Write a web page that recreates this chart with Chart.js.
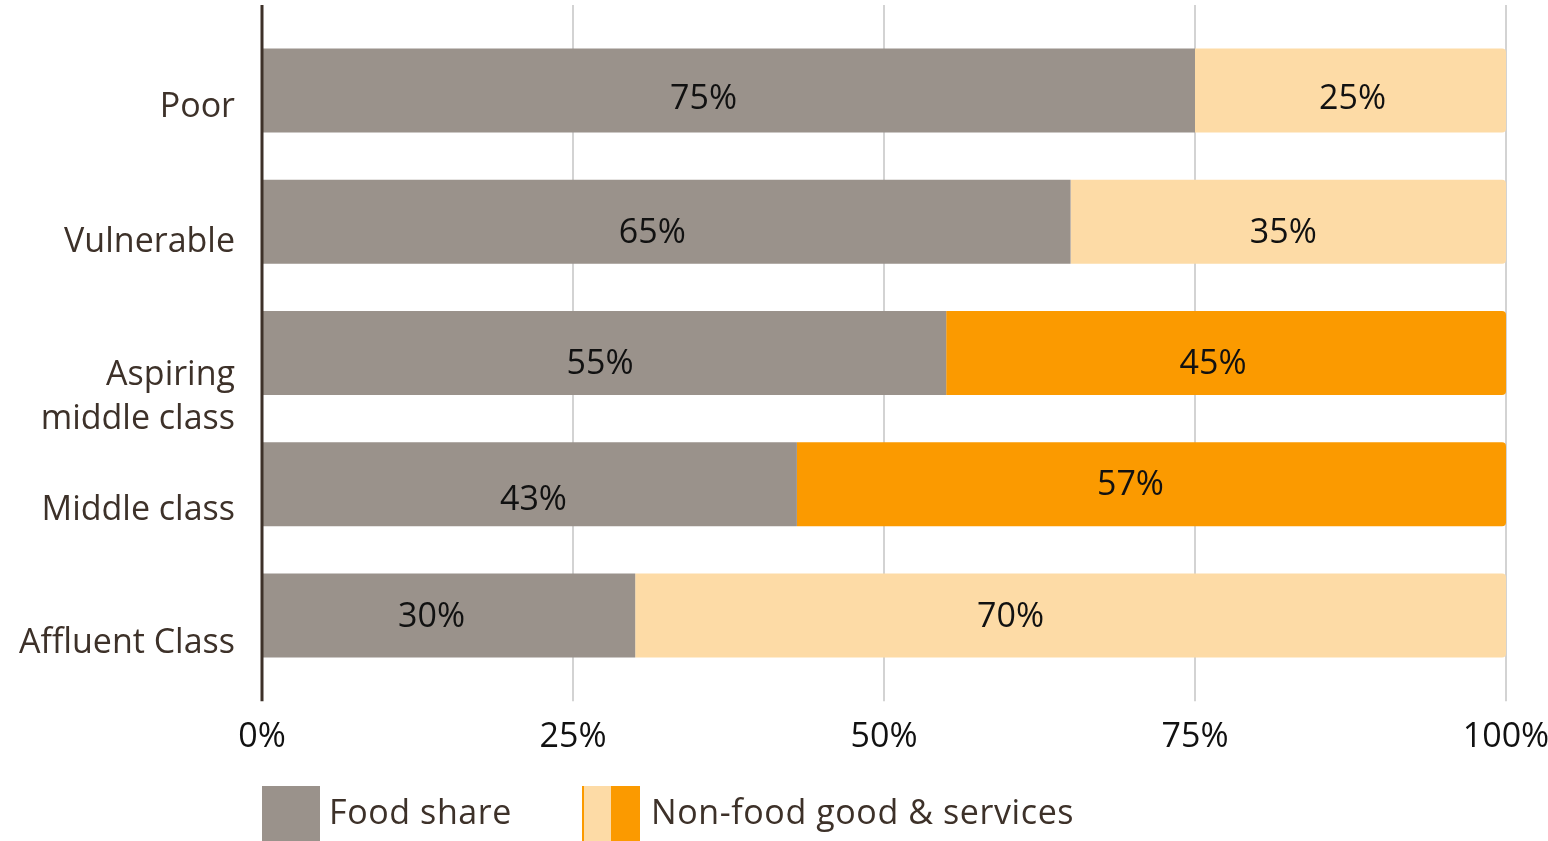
<!DOCTYPE html>
<html>
<head>
<meta charset="utf-8">
<script src="https://cdn.jsdelivr.net/npm/chart.js@4.4.1/dist/chart.umd.min.js"></script>
<style>
  html, body { margin: 0; padding: 0; background: #fff; }
  #wrap { width: 1548px; height: 841px; position: relative; }
</style>
</head>
<body>
<div id="wrap"><canvas id="shareChart"></canvas></div>
<script>
// ===== DATA =====
const CLASSES   = ['Poor', 'Vulnerable', ['Aspiring', 'middle class'], 'Middle class', 'Affluent Class'];
const FOOD      = [75, 65, 55, 43, 30];
const NON_FOOD  = [25, 35, 45, 57, 70];
const X_TICKS   = [0, 25, 50, 75, 100];
const LEGEND    = ['Food share', 'Non-food good & services'];

// ===== STYLE =====
const C_FOOD   = '#9a928b';
const C_LIGHT  = '#fddba6';
const C_ORANGE = '#fb9a00';
const C_TEXT   = '#3d3129';
const C_GRID   = '#d3d3d3';
const FONT     = '"Open Sans", Lato, sans-serif';
const FSIZE    = 34;
const TEXT_DY  = 4;   // Open Sans sits a bit high with textBaseline 'middle'
// middle groups get the strong orange, the others the pale one
const NON_FOOD_COLORS = [C_LIGHT, C_LIGHT, C_ORANGE, C_ORANGE, C_LIGHT];

// hand nudges for the printed labels (px)
const CAT_DY   = [13, 16, 40, 22, 24];
const FOOD_DX  = [-25, -14, -4, 4, -17];
const FOOD_DY  = [5, 7, 7, 12, -2];
const NF_DX    = [2, -5, -13, -21, -60];
const NF_DY    = [5, 7, 7, -3, -2];

// gridlines + axis line run a little past the plot area
const framePlugin = {
  id: 'frame',
  beforeDatasetsDraw(chart) {
    const { ctx, chartArea: a, scales: { x } } = chart;
    const top = a.top - 20, bottom = a.bottom + 20;
    ctx.save();
    ctx.strokeStyle = C_GRID;
    ctx.lineWidth = 2;
    X_TICKS.slice(1).forEach(v => {
      const px = Math.round(x.getPixelForValue(v));
      ctx.beginPath(); ctx.moveTo(px, top); ctx.lineTo(px, bottom); ctx.stroke();
    });
    ctx.restore();
  },
  afterDatasetsDraw(chart) {
    const { ctx, chartArea: a, scales: { x, y } } = chart;
    ctx.save();
    // y axis line
    ctx.strokeStyle = C_TEXT;
    ctx.lineWidth = 3;
    const x0 = x.getPixelForValue(0);
    ctx.beginPath(); ctx.moveTo(x0, a.top - 20); ctx.lineTo(x0, a.bottom + 20); ctx.stroke();

    // category labels
    ctx.font = FSIZE + 'px ' + FONT;
    ctx.fillStyle = C_TEXT;
    ctx.textAlign = 'right';
    ctx.textBaseline = 'middle';
    CLASSES.forEach((c, i) => {
      const lines = Array.isArray(c) ? c : [c];
      const cy = y.getPixelForValue(i) + CAT_DY[i] + TEXT_DY;
      lines.forEach((ln, j) => {
        ctx.fillText(ln, x0 - 27, cy + (j - (lines.length - 1) / 2) * 44);
      });
    });

    // value labels inside segments
    ctx.fillStyle = '#111';
    ctx.textAlign = 'center';
    const m0 = chart.getDatasetMeta(0).data, m1 = chart.getDatasetMeta(1).data;
    FOOD.forEach((v, i) => {
      const b = m0[i];
      ctx.fillText(v + '%', (b.base + b.x) / 2 + FOOD_DX[i], b.y + FOOD_DY[i] + TEXT_DY);
    });
    NON_FOOD.forEach((v, i) => {
      const b = m1[i];
      ctx.fillText(v + '%', (b.base + b.x) / 2 + NF_DX[i], b.y + NF_DY[i] + TEXT_DY);
    });

    // legend
    const ly = 786, sz = 55;
    ctx.fillStyle = C_FOOD;
    ctx.fillRect(x0, ly, 58, sz);
    ctx.fillStyle = C_TEXT;
    ctx.textAlign = 'left';
    ctx.letterSpacing = '0.6px';
    ctx.fillText(LEGEND[0], x0 + 67, ly + sz / 2 + 1);
    const lx = 582;
    ctx.fillStyle = C_ORANGE;
    ctx.fillRect(lx, ly, 2, sz);
    ctx.fillStyle = C_LIGHT;
    ctx.fillRect(lx + 2, ly, 27, sz);
    ctx.fillStyle = C_ORANGE;
    ctx.fillRect(lx + 29, ly, 29, sz);
    ctx.fillStyle = C_TEXT;
    ctx.fillText(LEGEND[1], lx + 69, ly + sz / 2 + 1);
    ctx.restore();
  }
};

new Chart(document.getElementById('shareChart'), {
  type: 'bar',
  data: {
    labels: CLASSES,
    datasets: [
      { label: LEGEND[0], data: FOOD, backgroundColor: C_FOOD,
        categoryPercentage: 1, barPercentage: 0.64 },
      { label: LEGEND[1], data: NON_FOOD, backgroundColor: NON_FOOD_COLORS,
        borderRadius: { topRight: 4, bottomRight: 4 }, borderSkipped: false,
        categoryPercentage: 1, barPercentage: 0.64 }
    ]
  },
  options: {
    indexAxis: 'y',
    responsive: true,
    maintainAspectRatio: false,
    animation: false,
    layout: { padding: { left: 262, right: 42, top: 25, bottom: 47 } },
    plugins: { legend: { display: false }, tooltip: { enabled: false } },
    scales: {
      x: {
        stacked: true, min: 0, max: 100,
        afterBuildTicks: s => { s.ticks = X_TICKS.map(v => ({ value: v })); },
        // end labels may overhang the plot; keep the plot width fixed
        afterFit: s => { s.paddingLeft = 0; s.paddingRight = 0; },
        grid: { display: false, drawTicks: false },
        border: { display: false },
        ticks: { color: '#111', padding: 36, maxRotation: 0,
                 font: { family: FONT, size: FSIZE },
                 callback: v => v + '%' }
      },
      y: {
        stacked: true, display: false
      }
    }
  },
  plugins: [framePlugin]
});
</script>
</body>
</html>
